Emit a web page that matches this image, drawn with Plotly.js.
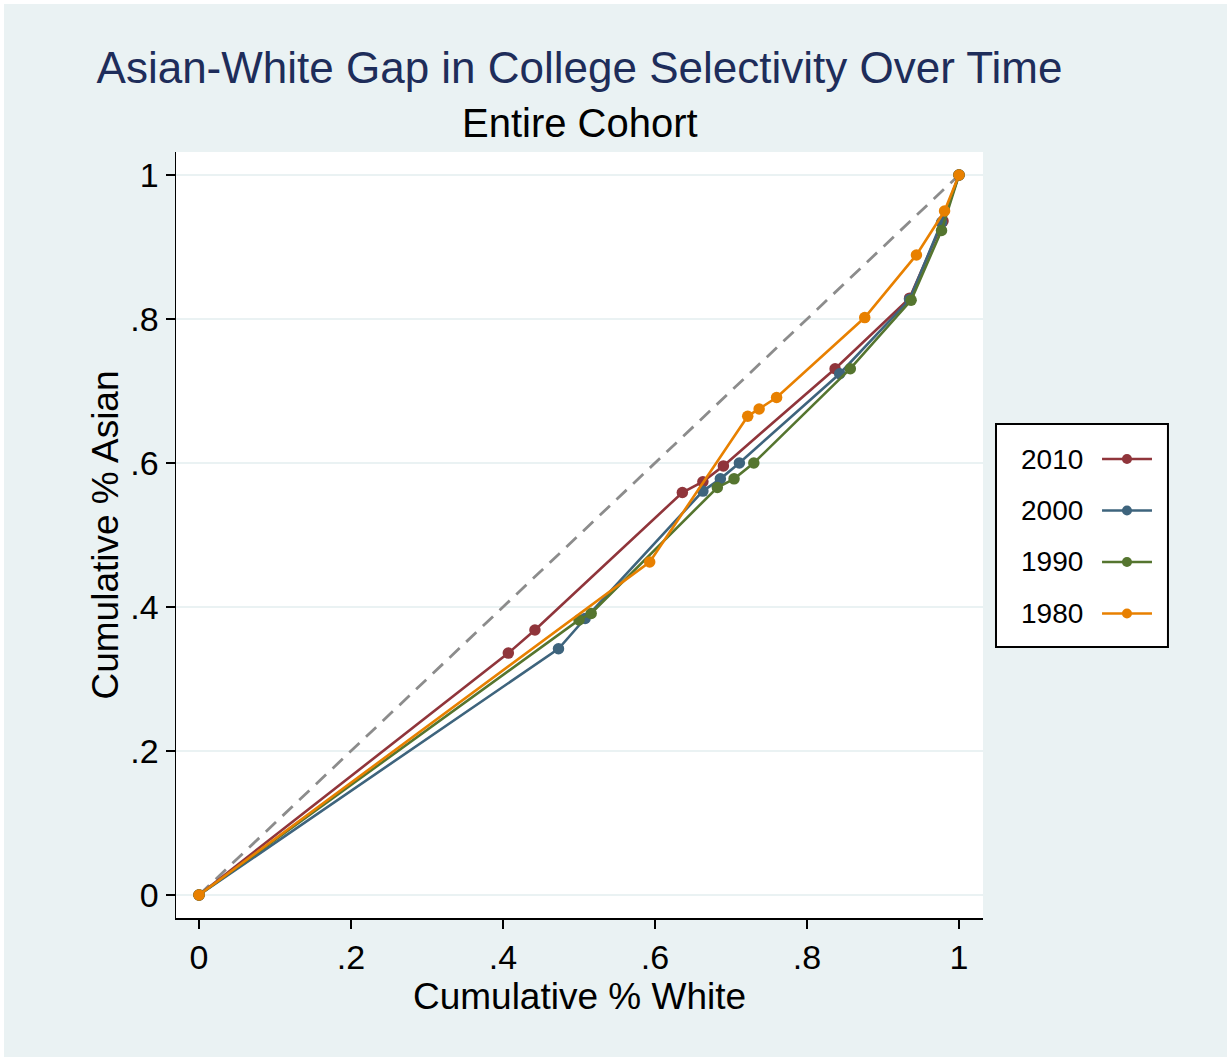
<!DOCTYPE html>
<html>
<head>
<meta charset="utf-8">
<script src="https://cdn.plot.ly/plotly-3.0.1.min.js"></script>
<style>
  html, body { margin: 0; padding: 0; background: #ffffff; }
  #chart { position: absolute; left: 4px; top: 4px; width: 1223px; height: 1053px; }
</style>
</head>
<body>
<div id="chart"></div>
<script>
// Cumulative share of White (x) vs Asian (y) students, ordered by college selectivity
const seriesNames = ["2010", "2000", "1990", "1980"];

const white2010 = [0, 0.407, 0.442, 0.636, 0.663, 0.690, 0.837, 0.935, 0.979, 1];
const asian2010 = [0, 0.336, 0.368, 0.559, 0.574, 0.596, 0.731, 0.829, 0.936, 1];

const white2000 = [0, 0.473, 0.508, 0.663, 0.686, 0.711, 0.843, 0.935, 0.977, 1];
const asian2000 = [0, 0.342, 0.384, 0.561, 0.578, 0.600, 0.724, 0.827, 0.934, 1];

const white1990 = [0, 0.500, 0.516, 0.682, 0.704, 0.730, 0.857, 0.937, 0.977, 1];
const asian1990 = [0, 0.382, 0.391, 0.566, 0.578, 0.600, 0.731, 0.826, 0.923, 1];

const white1980 = [0, 0.593, 0.722, 0.737, 0.760, 0.876, 0.944, 0.981, 1];
const asian1980 = [0, 0.4625, 0.665, 0.675, 0.691, 0.802, 0.889, 0.950, 1];

// Line of equality
const equalX = [0, 1];
const equalY = [0, 1];

const tickVals = [0, 0.2, 0.4, 0.6, 0.8, 1];
const tickText = ["0", ".2", ".4", ".6", ".8", "1"];

const colors = ["#90353b", "#3e647d", "#55752f", "#e88000"];
const xs = [white2010, white2000, white1990, white1980];
const ys = [asian2010, asian2000, asian1990, asian1980];

const FONT = "Liberation Sans, Arial, Helvetica, sans-serif";

const traces = [{
  x: equalX, y: equalY, type: "scatter", mode: "lines",
  line: { color: "#8c8c8c", width: 2.8, dash: "14px,9px" },
  showlegend: false, hoverinfo: "skip"
}];
seriesNames.forEach((name, i) => {
  traces.push({
    x: xs[i], y: ys[i], name: name, type: "scatter", mode: "lines+markers",
    line: { color: colors[i], width: 2.6 },
    marker: { color: colors[i], size: 11.5 },
    showlegend: false
  });
});

// Hand-built key: label text on the left, line sample with a dot on the right
const shapes = [{
  type: "rect", xref: "paper", yref: "paper",
  x0: 1.0161, x1: 1.2292, y0: 0.3538, y1: 0.6449,
  line: { color: "#000000", width: 2 }, fillcolor: "#ffffff", layer: "below"
}];
const annotations = [];
const rowY = [0.5992, 0.5320, 0.4648, 0.3975];
seriesNames.forEach((name, i) => {
  annotations.push({
    xref: "paper", yref: "paper", x: 1.1264, y: rowY[i],
    xanchor: "right", yanchor: "middle", showarrow: false,
    text: name, font: { family: FONT, size: 28, color: "#000000" }
  });
  shapes.push({
    type: "line", xref: "paper", yref: "paper",
    x0: 1.1475, x1: 1.2094, y0: rowY[i], y1: rowY[i],
    line: { color: colors[i], width: 2.6 }
  });
  shapes.push({
    type: "circle", xref: "paper", yref: "paper",
    xsizemode: "pixel", ysizemode: "pixel",
    xanchor: 1.1784, yanchor: rowY[i],
    x0: -5, x1: 5, y0: -5, y1: 5,
    fillcolor: colors[i], line: { color: colors[i], width: 0 }
  });
});

// Subtitle
annotations.push({
  xref: "paper", yref: "paper", x: 0.5, y: 1.0379,
  xanchor: "center", yanchor: "middle", showarrow: false,
  text: "Entire Cohort", font: { family: FONT, size: 40, color: "#000000" }
});

const layout = {
  width: 1223, height: 1053,
  paper_bgcolor: "#eaf2f3", plot_bgcolor: "#ffffff",
  margin: { l: 172, r: 244, t: 148, b: 139 },
  font: { family: FONT, color: "#000000" },
  title: {
    text: "Asian-White Gap in College Selectivity Over Time",
    font: { family: FONT, size: 44, color: "#1e2d5a" },
    xref: "paper", x: 0.5, xanchor: "center",
    yref: "container", y: 1 - (68 - 4) / 1053, yanchor: "middle"
  },
  xaxis: {
    range: [-0.0303, 1.0316], tickvals: tickVals, ticktext: tickText,
    showgrid: false, zeroline: false,
    showline: true, linecolor: "#000000", linewidth: 1.5,
    ticks: "outside", ticklen: 9, tickwidth: 1.5, tickcolor: "#000000",
    tickfont: { family: FONT, size: 34, color: "#000000" },
    title: { text: "Cumulative % White", font: { family: FONT, size: 37, color: "#000000" }, standoff: 4 }
  },
  yaxis: {
    range: [-0.032, 1.032], tickvals: tickVals, ticktext: tickText,
    showgrid: true, gridcolor: "#eaf2f3", gridwidth: 2.5, zeroline: false,
    showline: true, linecolor: "#000000", linewidth: 1.5,
    ticks: "outside", ticklen: 9, tickwidth: 1.5, tickcolor: "#000000",
    tickfont: { family: FONT, size: 34, color: "#000000" },
    title: { text: "Cumulative % Asian", font: { family: FONT, size: 37, color: "#000000" }, standoff: 0 }
  },
  shapes: shapes,
  annotations: annotations,
  showlegend: false
};

Plotly.newPlot("chart", traces, layout, { displayModeBar: false, staticPlot: true });
</script>
</body>
</html>
